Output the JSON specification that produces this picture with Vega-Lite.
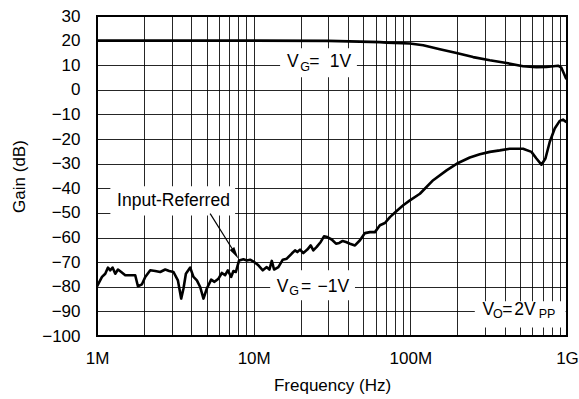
{
  "$schema": "https://vega.github.io/schema/vega-lite/v6.json",
  "width": 470,
  "height": 320,
  "autosize": {"type": "none"},
  "padding": {"left": 97, "top": 16, "right": 12, "bottom": 63},
  "background": "#ffffff",
  "datasets": {
    "lower": [
      {"f":1.000,"g":-79.8},{"f":1.076,"g":-76},{"f":1.129,"g":-74.7},{"f":1.175,"g":-72.2},{"f":1.216,"g":-73.3},
      {"f":1.257,"g":-72.2},{"f":1.308,"g":-74.7},{"f":1.361,"g":-73},{"f":1.428,"g":-74},{"f":1.515,"g":-75.3},
      {"f":1.655,"g":-75.3},{"f":1.754,"g":-75.3},{"f":1.825,"g":-79.8},{"f":1.936,"g":-79},{"f":2.032,"g":-76},
      {"f":2.187,"g":-73.3},{"f":2.353,"g":-73.6},{"f":2.532,"g":-74},{"f":2.725,"g":-73},{"f":2.890,"g":-73.6},
      {"f":3.078,"g":-74},{"f":3.283,"g":-77.4},{"f":3.446,"g":-84.8},{"f":3.565,"g":-80.7},{"f":3.693,"g":-74.7},
      {"f":3.934,"g":-72.2},{"f":4.129,"g":-76},{"f":4.340,"g":-77.4},{"f":4.555,"g":-80.1},{"f":4.781,"g":-84.8},
      {"f":5.026,"g":-80.7},{"f":5.354,"g":-77.1},{"f":5.620,"g":-78},{"f":5.962,"g":-76.7},{"f":6.263,"g":-74.4},
      {"f":6.574,"g":-75.3},{"f":6.840,"g":-73.3},{"f":7.179,"g":-76},{"f":7.426,"g":-73.6},{"f":7.692,"g":-74},
      {"f":8.074,"g":-69.3},{"f":8.601,"g":-68.8},{"f":9.041,"g":-69.3},{"f":9.489,"g":-69},{"f":10.11,"g":-70},
      {"f":10.72,"g":-71.3},{"f":11.44,"g":-73.3},{"f":12.12,"g":-72},{"f":12.60,"g":-73},{"f":13.05,"g":-69.5},
      {"f":13.50,"g":-73},{"f":14.38,"g":-72},{"f":15.34,"g":-69},{"f":16.27,"g":-68.6},{"f":17.51,"g":-66.5},
      {"f":18.37,"g":-65.2},{"f":19.00,"g":-65.9},{"f":19.77,"g":-64.9},{"f":20.75,"g":-66.3},{"f":22.00,"g":-64.9},
      {"f":23.13,"g":-63.2},{"f":24.03,"g":-65.2},{"f":25.26,"g":-63.8},{"f":26.79,"g":-61.8},{"f":28.12,"g":-59.5},
      {"f":29.51,"g":-59.8},{"f":31.49,"g":-60.8},{"f":33.54,"g":-62.5},{"f":35.20,"g":-62.2},{"f":37.00,"g":-61.4},
      {"f":38.84,"g":-61.8},{"f":41.18,"g":-62.5},{"f":44.33,"g":-63.2},{"f":47.70,"g":-61.1},{"f":51.33,"g":-58.2},
      {"f":55.24,"g":-57.8},{"f":59.44,"g":-57.8},{"f":63.97,"g":-55},{"f":68.85,"g":-54.1},{"f":74.06,"g":-51.7},
      {"f":81.74,"g":-49.2},{"f":90.07,"g":-46.9},{"f":99.36,"g":-44.9},{"f":115.1,"g":-42.2},{"f":139.9,"g":-36.7},
      {"f":170.3,"g":-32.7},{"f":201.9,"g":-29.7},{"f":239.7,"g":-27.5},{"f":277.6,"g":-26.2},{"f":321.6,"g":-25.2},
      {"f":372.4,"g":-24.6},{"f":431.2,"g":-23.9},{"f":524.1,"g":-23.9},{"f":592.9,"g":-25.2},{"f":638.1,"g":-27.9},
      {"f":686.8,"g":-30.4},{"f":728.4,"g":-27.9},{"f":775.8,"g":-21.2},{"f":834.9,"g":-15.7},{"f":898.4,"g":-12.6},
      {"f":942.9,"g":-12.1},{"f":991.3,"g":-13.1}
    ],
    "upper": [
      {"f":1,"g":20},{"f":10,"g":20},{"f":30,"g":19.9},{"f":47.7,"g":19.6},{"f":64,"g":19.4},{"f":70.6,"g":19.2},
      {"f":99.4,"g":18.8},{"f":120.8,"g":18.1},{"f":154.3,"g":16.5},{"f":197.2,"g":15},{"f":251.7,"g":13.3},
      {"f":321.6,"g":12},{"f":410.9,"g":10.9},{"f":524.1,"g":9.6},{"f":638.1,"g":9.2},{"f":738.9,"g":9.3},
      {"f":876.1,"g":9.8},{"f":920.7,"g":9},{"f":991.3,"g":4.3}
    ],
    "boxes": [
      {"f":14.75,"f2":45.6,"g":5.1,"g2":16.9},
      {"f":12.75,"f2":44.33,"g":-85.5,"g2":-73.3},
      {"f":257.9,"f2":980,"g":-96.5,"g2":-85.9},
      {"f":1.217,"f2":7.614,"g":-51.0,"g2":-39.2}
    ],
    "texts": [
      {"f":16.33,"g":9.3,"text":"V","kind":"main"},
      {"f":19.80,"g":7.5,"text":"G","kind":"sub"},
      {"f":22.62,"g":9.3,"text":"=","kind":"main"},
      {"f":30.62,"g":9.3,"text":"1V","kind":"main"},
      {"f":14.04,"g":-82.1,"text":"V","kind":"main"},
      {"f":16.90,"g":-83.5,"text":"G","kind":"sub"},
      {"f":20.03,"g":-82.1,"text":"=","kind":"main"},
      {"f":25.55,"g":-82.1,"text":"−1V","kind":"main"},
      {"f":288.8,"g":-91.3,"text":"V","kind":"main"},
      {"f":337.5,"g":-92.7,"text":"O","kind":"sub"},
      {"f":386.3,"g":-91.3,"text":"=","kind":"main"},
      {"f":460.6,"g":-91.3,"text":"2V","kind":"main"},
      {"f":660.2,"g":-92.7,"text":"PP","kind":"sub"},
      {"f":3.078,"g":-47.3,"text":"Input-Referred","kind":"center"}
    ],
    "arrow": [
      {"f":5.276,"g":-50.3,"f2":7.62,"g2":-66.5}
    ]
  },
  "encoding": {
    "x": {
      "field": "f", "type": "quantitative",
      "scale": {"type": "log", "domain": [1, 1000], "nice": false},
      "axis": {
        "title": "Frequency (Hz)",
        "values": [1,2,3,4,5,6,7,8,9,10,20,30,40,50,60,70,80,90,100,200,300,400,500,600,700,800,900,1000],
        "labelExpr": "datum.value == 1 ? '1M' : datum.value == 10 ? '10M' : datum.value == 100 ? '100M' : datum.value == 1000 ? '1G' : ''",
        "labelPadding": 14,
        "titlePadding": 11,
        "labelFlush": false,
        "labelOverlap": false
      }
    },
    "y": {
      "field": "g", "type": "quantitative",
      "scale": {"domain": [-100, 30], "nice": false},
      "axis": {
        "title": "Gain (dB)",
        "values": [-100,-90,-80,-70,-60,-50,-40,-30,-20,-10,0,10,20,30],
        "labelExpr": "replace(datum.label, '-', '−')",
        "labelPadding": 17,
        "titlePadding": 13
      }
    }
  },
  "layer": [
    {
      "data": {"name": "boxes"},
      "mark": {"type": "rect", "fill": "#ffffff", "stroke": null},
      "encoding": {"x2": {"field": "f2"}, "y2": {"field": "g2"}}
    },
    {
      "data": {"name": "upper"},
      "mark": {"type": "line", "color": "#000", "strokeWidth": 2.6, "strokeJoin": "round"}
    },
    {
      "data": {"name": "lower"},
      "mark": {"type": "line", "color": "#000", "strokeWidth": 2.6, "strokeJoin": "round"}
    },
    {
      "data": {"name": "arrow"},
      "mark": {"type": "rule", "color": "#000", "strokeWidth": 1.2},
      "encoding": {"x2": {"field": "f2"}, "y2": {"field": "g2"}}
    },
    {
      "data": {"name": "arrow"},
      "mark": {"type": "point", "shape": "M0,1L-0.45,-1L0.45,-1Z", "filled": true, "color": "#000", "size": 144, "angle": -32, "opacity": 1},
      "encoding": {"x": {"field": "f2", "type": "quantitative"}, "y": {"field": "g2", "type": "quantitative"}}
    },
    {
      "data": {"name": "texts"},
      "transform": [{"filter": "datum.kind == 'main'"}],
      "mark": {"type": "text", "align": "left", "baseline": "alphabetic", "fontSize": 17.5, "font": "Liberation Sans, Arial, Helvetica, sans-serif", "color": "#000"},
      "encoding": {"text": {"field": "text"}}
    },
    {
      "data": {"name": "texts"},
      "transform": [{"filter": "datum.kind == 'sub'"}],
      "mark": {"type": "text", "align": "left", "baseline": "alphabetic", "fontSize": 12.5, "font": "Liberation Sans, Arial, Helvetica, sans-serif", "color": "#000"},
      "encoding": {"text": {"field": "text"}}
    },
    {
      "data": {"name": "texts"},
      "transform": [{"filter": "datum.kind == 'center'"}],
      "mark": {"type": "text", "align": "center", "baseline": "alphabetic", "fontSize": 17.5, "font": "Liberation Sans, Arial, Helvetica, sans-serif", "color": "#000"},
      "encoding": {"text": {"field": "text"}}
    }
  ],
  "config": {
    "view": {"stroke": "#000", "strokeWidth": 2},
    "axis": {
      "grid": true,
      "gridColor": "#000",
      "gridWidth": 1,
      "gridOpacity": 0.85,
      "domain": false,
      "ticks": false,
      "labelFont": "Liberation Sans, Arial, Helvetica, sans-serif",
      "labelFontSize": 17,
      "labelColor": "#000",
      "titleFont": "Liberation Sans, Arial, Helvetica, sans-serif",
      "titleFontSize": 17,
      "titleFontWeight": "normal",
      "titleColor": "#000"
    }
  }
}
